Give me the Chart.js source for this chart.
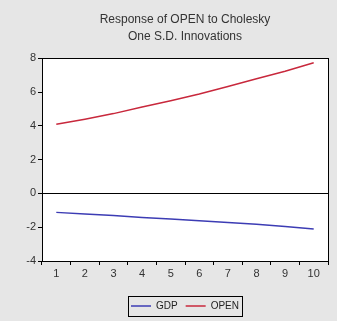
<!DOCTYPE html>
<html>
<head>
<meta charset="utf-8">
<script src="https://cdn.jsdelivr.net/npm/chart.js@4/dist/chart.umd.min.js"></script>
<style>
html,body{margin:0;padding:0;background:#e6e6e6;}
#wrap{width:337px;height:321px;}
</style>
</head>
<body>
<div id="wrap"><canvas id="c" width="337" height="321"></canvas></div>
<script>
const periods = ['1','2','3','4','5','6','7','8','9','10'];
const gdpValues = [-1.12, -1.21, -1.31, -1.42, -1.51, -1.61, -1.72, -1.83, -1.96, -2.10];
const openValues = [4.10, 4.40, 4.73, 5.12, 5.49, 5.89, 6.33, 6.79, 7.24, 7.74];
const titleLines = ['Response of OPEN to Cholesky', 'One S.D. Innovations'];
const yMin = -4, yMax = 8, yStep = 2;

const FONT = "'Liberation Sans', Arial, sans-serif";

const bgPlugin = {
  id: 'bg',
  beforeDraw(chart) {
    const {ctx, width, height, chartArea: a} = chart;
    ctx.save();
    ctx.fillStyle = '#e6e6e6';
    ctx.fillRect(0, 0, width, height);
    ctx.fillStyle = '#ffffff';
    ctx.fillRect(a.left, a.top, a.right - a.left, a.bottom - a.top);
    ctx.restore();
  },
  afterDraw(chart) {
    const {ctx, chartArea: a} = chart;
    ctx.save();
    ctx.strokeStyle = '#000';
    ctx.lineWidth = 1;
    ctx.strokeRect(Math.round(a.left) + 0.5, Math.round(a.top) + 0.5, Math.round(a.right - a.left), Math.round(a.bottom - a.top));
    // legend box
    const lg = chart.legend;
    if (lg && lg.legendHitBoxes && lg.legendHitBoxes.length) {
      const hb = lg.legendHitBoxes;
      let l = Infinity, r = -Infinity, t = Infinity, b = -Infinity;
      hb.forEach(h => { l = Math.min(l, h.left); r = Math.max(r, h.left + h.width); t = Math.min(t, h.top); b = Math.max(b, h.top + h.height); });
      const cy = (t + b) / 2;
      ctx.strokeRect(Math.round(l - 3) + 0.5, Math.round(cy - 10) + 0.5, Math.round(r - l + 6), 20);
    }
    ctx.restore();
  }
};

new Chart(document.getElementById('c'), {
  type: 'line',
  data: {
    labels: periods,
    datasets: [
      { label: 'GDP', data: gdpValues, borderColor: '#3c3cb4', backgroundColor: '#3c3cb4', borderWidth: 1.5, pointRadius: 0, tension: 0 },
      { label: 'OPEN', data: openValues, borderColor: '#c8283c', backgroundColor: '#c8283c', borderWidth: 1.5, pointRadius: 0, tension: 0 }
    ]
  },
  options: {
    responsive: false,
    animation: false,
    devicePixelRatio: 1,
    layout: { padding: { left: 0, right: 9, top: 0, bottom: 0 } },
    plugins: {
      title: {
        display: true,
        text: titleLines,
        fullSize: false,
        color: '#333',
        font: { family: FONT, size: 12, weight: 'normal', lineHeight: 1.35 },
        padding: { top: 12, bottom: 14 }
      },
      legend: {
        display: true,
        position: 'bottom',
        fullSize: false,
        labels: {
          usePointStyle: true,
          pointStyle: 'line',
          pointStyleWidth: 20,
          boxHeight: 10,
          color: '#222',
          font: { family: FONT, size: 10 },
          padding: 8
        }
      },
      tooltip: { enabled: false }
    },
    scales: {
      x: {
        type: 'category',
        offset: true,
        grid: { offset: true, drawOnChartArea: false, tickLength: 4, tickColor: '#000', color: '#000' },
        border: { color: '#000' },
        ticks: { color: '#333', font: { family: FONT, size: 11 }, padding: 2, maxRotation: 0 },
        afterFit(s) { s.height = 32; }
      },
      y: {
        min: yMin, max: yMax,
        grid: { color: ctx => (ctx.tick && ctx.tick.value === 0) ? '#000' : 'rgba(0,0,0,0)', tickColor: '#000', tickLength: 4, lineWidth: 1 },
        border: { color: '#000' },
        ticks: { stepSize: yStep, color: '#333', font: { family: FONT, size: 11 }, padding: 2 },
        afterFit(s) { s.width = 42; }
      }
    }
  },
  plugins: [bgPlugin]
});
</script>
</body>
</html>
